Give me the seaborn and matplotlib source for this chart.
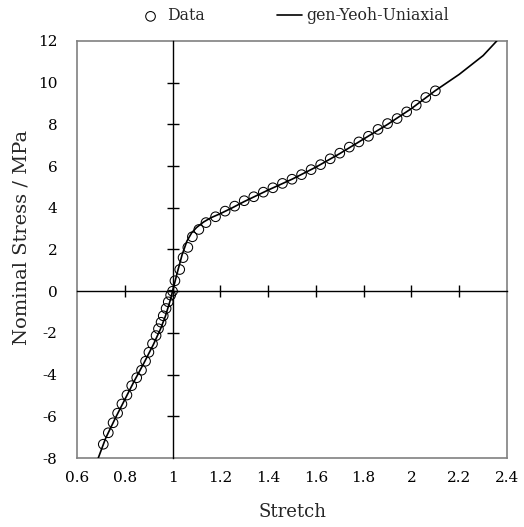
import numpy as np
import pandas as pd
import matplotlib
matplotlib.use("Agg")
import matplotlib.pyplot as plt
import seaborn as sns

# ---- data ----
data_stretch = [0.710, 0.731, 0.751, 0.770, 0.788, 0.809, 0.829, 0.850, 0.870, 0.887,
                0.901, 0.916, 0.931, 0.941, 0.952, 0.961, 0.973, 0.982, 0.992, 1.000,
                1.010, 1.030, 1.044, 1.064, 1.083, 1.110, 1.140, 1.180, 1.220, 1.260,
                1.300, 1.340, 1.380, 1.420, 1.460, 1.500, 1.540, 1.580, 1.620, 1.660,
                1.700, 1.740, 1.780, 1.820, 1.860, 1.900, 1.940, 1.980, 2.020, 2.060, 2.100]
data_stress = [-7.34, -6.79, -6.31, -5.85, -5.41, -4.98, -4.53, -4.15, -3.79, -3.36,
               -2.93, -2.52, -2.13, -1.80, -1.49, -1.18, -0.83, -0.51, -0.19, 0.00,
               0.50, 1.04, 1.61, 2.10, 2.61, 2.96, 3.29, 3.57, 3.84, 4.08,
               4.34, 4.53, 4.75, 4.96, 5.17, 5.37, 5.59, 5.83, 6.07, 6.35,
               6.62, 6.91, 7.16, 7.43, 7.76, 8.04, 8.28, 8.60, 8.92, 9.29, 9.61]

fit_stretch = [0.689, 0.72, 0.76, 0.80, 0.84, 0.88, 0.92, 0.95, 0.97, 0.99, 1.00, 1.01,
               1.02, 1.04, 1.06, 1.08, 1.10, 1.13, 1.16, 1.20, 1.25, 1.30, 1.40, 1.50,
               1.60, 1.70, 1.80, 1.90, 2.00, 2.10, 2.20, 2.30, 2.357]
fit_stress = [-8.0, -7.05, -6.1, -5.2, -4.3, -3.45, -2.55, -1.80, -1.20, -0.45, 0.0, 0.45,
              0.9, 1.75, 2.40, 2.80, 3.05, 3.32, 3.52, 3.72, 4.00, 4.30, 4.85, 5.37,
              5.95, 6.60, 7.30, 8.00, 8.76, 9.62, 10.40, 11.30, 12.0]

x_ticks = [0.6, 0.8, 1.0, 1.2, 1.4, 1.6, 1.8, 2.0, 2.2, 2.4]
x_tick_labels = ["0.6", "0.8", "1", "1.2", "1.4", "1.6", "1.8", "2", "2.2", "2.4"]
y_ticks = [-8, -6, -4, -2, 0, 2, 4, 6, 8, 10, 12]
y_tick_labels = ["-8", "-6", "-4", "-2", "0", "2", "4", "6", "8", "10", "12"]

df_data = pd.DataFrame({"Stretch": data_stretch, "Stress": data_stress})
df_fit = pd.DataFrame({"Stretch": fit_stretch, "Stress": fit_stress})

sns.set_theme(style="white")
plt.rcParams["font.family"] = ["DejaVu Serif"]

fig = plt.figure(figsize=(5.24, 5.27), dpi=100)
rect = [77 / 524, 1 - 458 / 527, 430 / 524, 417 / 527]
ax = fig.add_axes(rect)

xlim = (0.6, 2.4)
ylim = (-8, 12)

sns.lineplot(data=df_fit, x="Stretch", y="Stress", ax=ax, color="black",
             linewidth=1.2, label="gen-Yeoh-Uniaxial", sort=False, zorder=3)
sns.scatterplot(data=df_data, x="Stretch", y="Stress", ax=ax, marker="o",
                s=48, facecolor="none", edgecolor="black", linewidth=0.75,
                label="Data", zorder=4)

ax.set_xlim(*xlim)
ax.set_ylim(*ylim)
ax.set_xticks(x_ticks)
ax.set_xticklabels(x_tick_labels)
ax.set_yticks(y_ticks)
ax.set_yticklabels(y_tick_labels)
ax.tick_params(axis="both", length=0, labelsize=11, colors="black")
ax.tick_params(axis="y", pad=14)
ax.tick_params(axis="x", pad=9)
for s in ax.spines.values():
    s.set_color("#808080")
    s.set_linewidth(1.2)
ax.set_xlabel("Stretch", fontsize=13, labelpad=13)
ax.set_ylabel("Nominal Stress / MPa", fontsize=14)
ax.yaxis.set_label_coords(-0.109, 0.53)

# central cross axes with crossing ticks (inner ticks only)
ax2 = fig.add_axes(rect)
ax2.patch.set_visible(False)
ax2.spines["top"].set_visible(False)
ax2.spines["right"].set_visible(False)
ax2.set_xlim(*xlim)
ax2.set_ylim(*ylim)
ax2.spines["left"].set_position(("data", 1.0))
ax2.spines["bottom"].set_position(("data", 0.0))
for side in ["left", "bottom"]:
    ax2.spines[side].set_color("black")
    ax2.spines[side].set_linewidth(1.0)
ax2.set_xticks(x_ticks[1:-1])
ax2.set_yticks(y_ticks[1:-1])
ax2.tick_params(axis="both", which="major", direction="inout", length=9, width=1.0,
                color="black", bottom=True, left=True, top=False, right=False,
                labelleft=False, labelbottom=False)
ax2.grid(False)

handles, labels = ax.get_legend_handles_labels()
order = [labels.index("Data"), labels.index("gen-Yeoh-Uniaxial")]
ax.legend([handles[i] for i in order], [labels[i] for i in order],
          loc="center", bbox_to_anchor=(0.503, 1.06), ncol=2, frameon=False,
          fontsize=11.3, handlelength=1.6, columnspacing=4.6, handletextpad=0.25,
          borderaxespad=0)

fig.savefig("out.png", dpi=100)
